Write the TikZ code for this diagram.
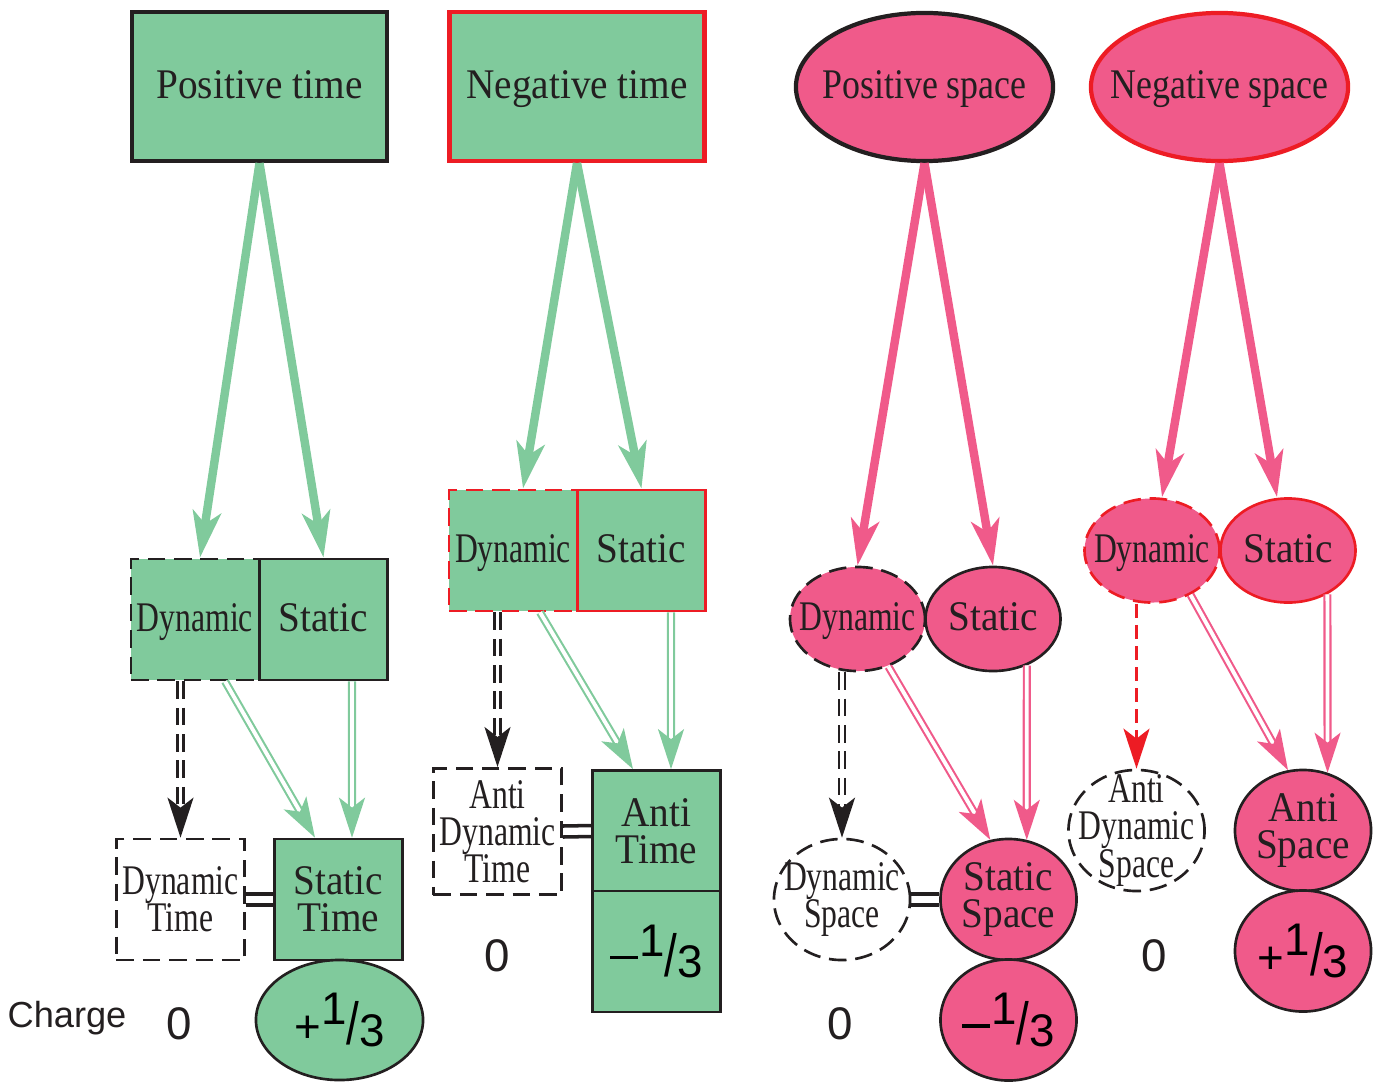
\documentclass[tikz,border=0pt]{standalone}
\usepackage{fontspec}
\setmainfont{Liberation Serif}[FakeStretch=0.93]
\newfontfamily\narrowserif{Liberation Serif}[FakeStretch=0.75]
\newfontfamily\spaceserif{Liberation Serif}[FakeStretch=0.85]
\newfontfamily\chargesans{Liberation Sans}
\usepackage{graphicx}
\usetikzlibrary{arrows.meta,shapes.geometric}
\definecolor{tgreen}{RGB}{128,202,156}
\definecolor{spink}{RGB}{240,90,138}
\definecolor{nred}{RGB}{237,28,36}
\definecolor{kblack}{RGB}{35,31,32}
\newcommand\tightlines{\setlength{\lineskiplimit}{-20pt}}
\newcommand\minussign{\raisebox{0.32em}{\rule{0.6em}{0.075em}}\kern0.04em}
\newcommand\third[1]{{\chargesans\fontsize{13pt}{13pt}\selectfont #1\raisebox{0.39em}{1}\raisebox{-0.05em}{\scalebox{1}[1.3]{/}}\raisebox{-0.09em}{3}}}
\begin{document}
\begin{tikzpicture}[x=0.01cm, y=-0.01cm,
    txt/.style={font=\fontsize{12pt}{10.6pt}\selectfont\tightlines, align=center, text=kblack},
    dyntxt/.style={font=\narrowserif\fontsize{12pt}{10.6pt}\selectfont\tightlines, align=center, text=kblack},
    oneline/.style={text height=0.9em, text depth=0.22em},
    topbox/.style={txt, oneline, rectangle, fill=tgreen, line width=1.2pt, minimum width=2.55cm, minimum height=1.49cm},
    topell/.style={txt, oneline, font=\spaceserif\fontsize{12pt}{12pt}\selectfont, ellipse, fill=spink, line width=1.2pt, minimum width=2.57cm, minimum height=1.48cm, inner xsep=-0.3cm, inner ysep=-0.15cm},
    tbox/.style={rectangle, draw=kblack, line width=0.75pt, minimum width=1.28cm, minimum height=1.21cm, inner xsep=1.5pt},
    ell/.style={ellipse, draw=kblack, line width=0.75pt, minimum width=1.35cm, minimum height=1.04cm, inner xsep=-0.2cm, inner ysep=-0.15cm},
    lowell/.style={minimum width=1.36cm, minimum height=1.21cm},
    dashedline/.style={dash pattern=on 5pt off 2.5pt},
    bigarrow/.style={line width=2.4pt, -{Stealth[length=0.46cm, width=0.28cm, inset=0.12cm]}},
    dblarrow/.style={double, double distance=1.1pt, line width=0.6pt, -{Stealth[length=0.4cm, width=0.26cm, inset=0.1cm]}},
    sglarrow/.style={line width=0.8pt, -{Stealth[length=0.4cm, width=0.26cm, inset=0.1cm]}},
    eqline/.style={draw=kblack, line width=1pt},
    zero/.style={font=\chargesans\fontsize{13pt}{13pt}\selectfont, text=kblack}]
\useasboundingbox (0,0) rectangle (1380,1082);

% top row
\node[topbox, draw=kblack] (pt) at (259.5,86.5) {Positive time};
\node[topbox, draw=nred] (nt) at (577,86.5) {Negative time};
\node[topell, draw=kblack] (ps) at (924.5,87) {Positive space};
\node[topell, draw=nred] (ns) at (1219.5,87) {Negative space};

% positive time
\node[tbox, dyntxt, oneline, fill=tgreen, dashedline] (d1) at (195,619.5) {Dynamic};
\node[tbox, txt, oneline, fill=tgreen] (s1) at (323.5,619.5) {Static};
\node[tbox, dyntxt, dashedline] (dt1) at (180.5,899.5) {Dynamic\\Time};
\node[tbox, txt, fill=tgreen] (st1) at (338.5,899.5) {Static\\Time};
\node[ell, fill=tgreen, minimum width=1.67cm, minimum height=1.2cm] (q1) at (339.5,1020) {\third{+}};
\node[font=\chargesans\fontsize{10.3pt}{12pt}\selectfont, text=kblack] (charge) at (67,1018) {Charge};
\node[zero] (z1) at (179.5,1024) {0};

% negative time
\node[tbox, dyntxt, oneline, fill=tgreen, draw=nred, dashedline] (d2) at (513,550.5) {Dynamic};
\node[tbox, txt, oneline, fill=tgreen, draw=nred] (s2) at (641.5,550.5) {Static};
\node[tbox, dyntxt, dashedline] (adt2) at (497.5,831.5) {Anti\\Dynamic\\Time};
\node[tbox, txt, fill=tgreen] (at2) at (656.5,831) {Anti\\Time};
\node[tbox, fill=tgreen] (q2) at (656.5,951.5) {\third{\minussign}};
\node[zero] (z2) at (497,956) {0};

% positive space
\node[ell, dyntxt, oneline, fill=spink, dashedline] (d3) at (857.5,619) {Dynamic};
\node[ell, txt, oneline, fill=spink] (s3) at (993,619) {Static};
\node[ell, lowell, dyntxt, dashedline] (ds3) at (842,899.5) {Dynamic\\Space};
\node[ell, lowell, txt, fill=spink] (ss3) at (1008.5,899.5) {Static\\Space};
\node[ell, lowell, fill=spink] (q3) at (1008.5,1020) {\third{\minussign}};
\node[zero] (z3) at (840,1024) {0};

% negative space
\node[ell, dyntxt, oneline, fill=spink, draw=nred, dashedline] (d4) at (1152,550.5) {Dynamic};
\node[ell, txt, oneline, fill=spink, draw=nred] (s4) at (1288,550.5) {Static};
\node[ell, lowell, dyntxt, dashedline] (ads4) at (1136.5,830.5) {Anti\\Dynamic\\Space};
\node[ell, lowell, txt, fill=spink] (as4) at (1303,830.5) {Anti\\Space};
\node[ell, lowell, fill=spink] (q4) at (1303,951) {\third{+}};
\node[zero] (z4) at (1154,956) {0};

% splits
\draw[bigarrow, tgreen] (pt.south) -- ([xshift=0.05cm]d1.north);
\draw[bigarrow, tgreen] (pt.south) -- (s1.north);
\draw[bigarrow, tgreen] (nt.south) -- ([xshift=0.1cm]d2.north);
\draw[bigarrow, tgreen] (nt.south) -- (s2.north);
\draw[bigarrow, spink] (ps.south) -- (d3.north);
\draw[bigarrow, spink] (ps.south) -- (s3.north);
\draw[bigarrow, spink] (ns.south) -- ([xshift=0.1cm]d4.north);
\draw[bigarrow, spink] (ns.south) -- ([xshift=-0.11cm]s4.north);

% lower arrows
\draw[dblarrow, kblack, dashedline] (dt1.north |- d1.south) -- (dt1.north);
\draw[dblarrow, tgreen] ([xshift=0.3cm]d1.south) -- ([xshift=-0.235cm]st1.north);
\draw[dblarrow, tgreen] ([xshift=0.285cm]s1.south) -- ([xshift=0.135cm]st1.north);
\draw[dblarrow, kblack, dashedline] (adt2.north |- d2.south) -- (adt2.north);
\draw[dblarrow, tgreen] ([xshift=0.27cm]d2.south) -- ([xshift=-0.235cm]at2.north);
\draw[dblarrow, tgreen] ([xshift=0.295cm]s2.south) -- ([xshift=0.145cm]at2.north);
\draw[dblarrow, kblack, dashedline] (ds3.north |- d3.south) -- (ds3.north);
\draw[dblarrow, spink] (d3.-57) -- (ss3.107);
\draw[dblarrow, spink] (s3.-54) -- (ss3.73);
\draw[sglarrow, nred, dash pattern=on 4pt off 2pt] (ads4.north |- d4.south) -- (ads4.north);
\draw[dblarrow, spink] (d4.-49) -- (as4.104);
\draw[dblarrow, spink] (s4.-48) -- (as4.67);

% equal signs
\draw[eqline] ([yshift=0.055cm]dt1.east) -- ([yshift=0.055cm]st1.west);
\draw[eqline] ([yshift=-0.055cm]dt1.east) -- ([yshift=-0.055cm]st1.west);
\draw[eqline] ([yshift=0.055cm]adt2.east) -- ([yshift=0.055cm]at2.west);
\draw[eqline] ([yshift=-0.055cm]adt2.east) -- ([yshift=-0.055cm]at2.west);
\draw[eqline] ([yshift=0.055cm]ds3.east) -- ([yshift=0.055cm]ss3.west);
\draw[eqline] ([yshift=-0.055cm]ds3.east) -- ([yshift=-0.055cm]ss3.west);
\end{tikzpicture}
\end{document}
